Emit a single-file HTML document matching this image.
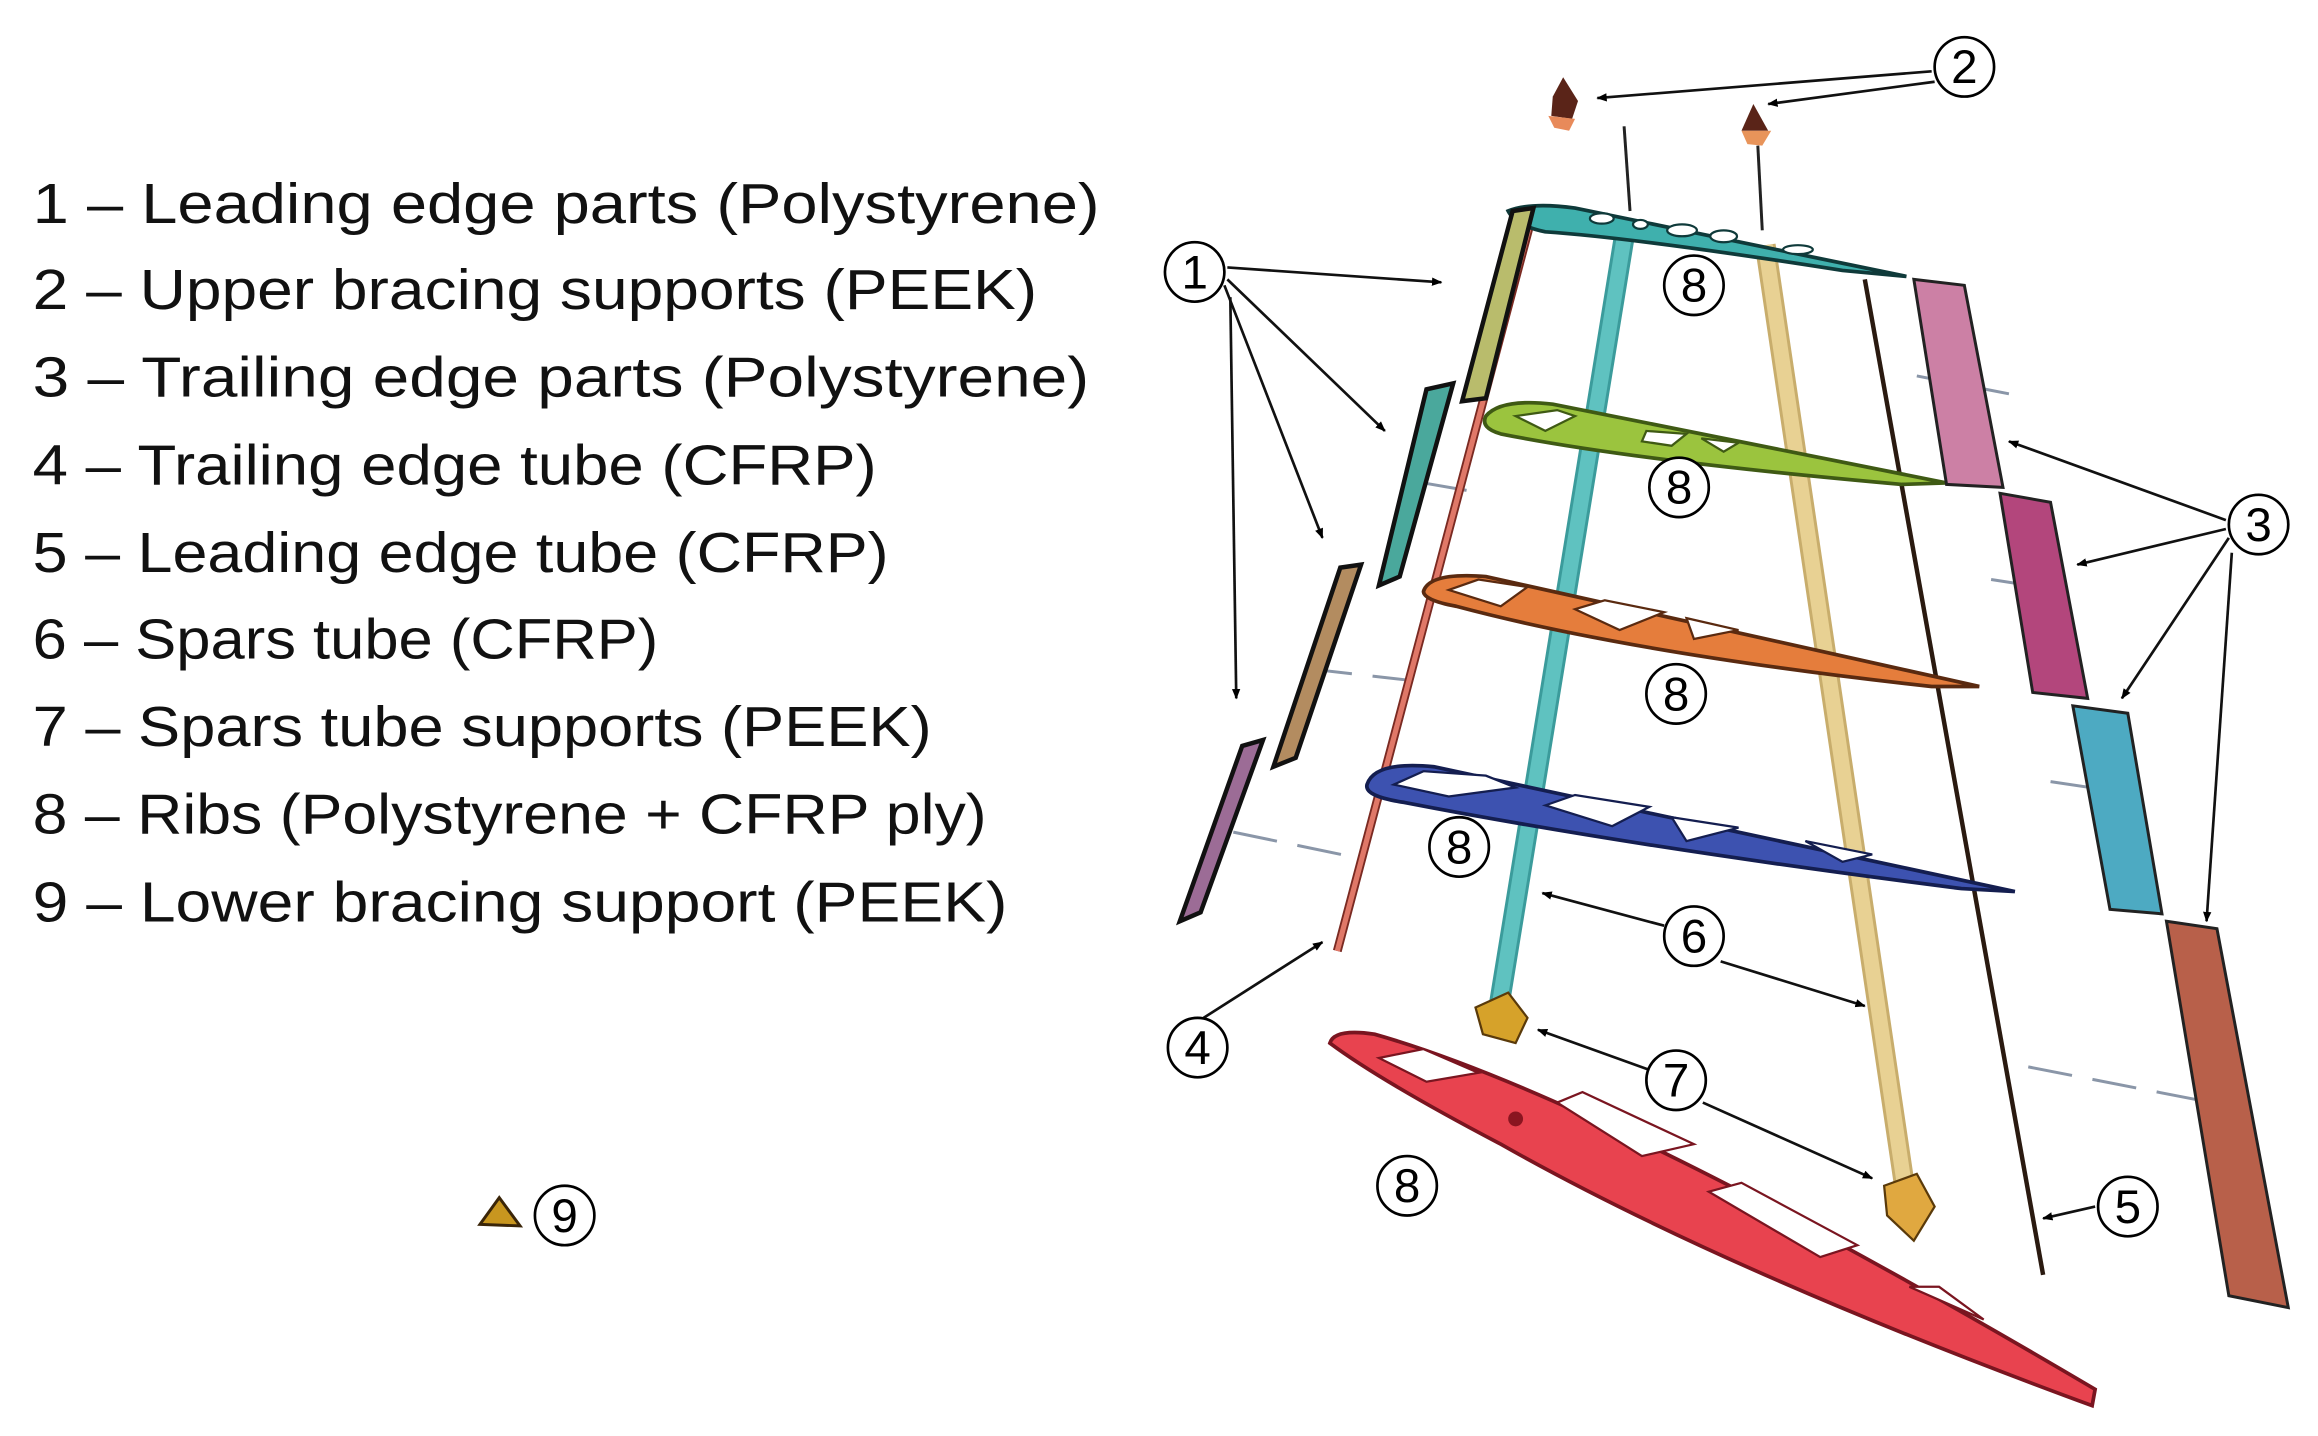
<!DOCTYPE html>
<html><head><meta charset="utf-8"><style>
html,body{margin:0;padding:0;background:#fff;}
svg{display:block;}
</style></head><body>
<svg width="2318" height="1436" viewBox="0 0 1560 966.4" xmlns="http://www.w3.org/2000/svg">
<defs>
<marker id="ah" viewBox="0 0 10 10" refX="9" refY="5" markerWidth="7" markerHeight="7" orient="auto-start-reverse" markerUnits="userSpaceOnUse"><path d="M0,1 L10,5 L0,9 z" fill="#000"/></marker>
</defs>
<rect width="1560" height="967" fill="#fff"/>
<g font-family="'Liberation Sans', sans-serif" font-size="38" fill="#111">
<text x="22" y="150" textLength="718" lengthAdjust="spacingAndGlyphs">1 – Leading edge parts (Polystyrene)</text>
<text x="22" y="208" textLength="676" lengthAdjust="spacingAndGlyphs">2 – Upper bracing supports (PEEK)</text>
<text x="22" y="267" textLength="711" lengthAdjust="spacingAndGlyphs">3 – Trailing edge parts (Polystyrene)</text>
<text x="22" y="326" textLength="568" lengthAdjust="spacingAndGlyphs">4 – Trailing edge tube (CFRP)</text>
<text x="22" y="385" textLength="576" lengthAdjust="spacingAndGlyphs">5 – Leading edge tube (CFRP)</text>
<text x="22" y="443" textLength="421" lengthAdjust="spacingAndGlyphs">6 – Spars tube (CFRP)</text>
<text x="22" y="502" textLength="605" lengthAdjust="spacingAndGlyphs">7 – Spars tube supports (PEEK)</text>
<text x="22" y="561" textLength="642" lengthAdjust="spacingAndGlyphs">8 – Ribs (Polystyrene + CFRP ply)</text>
<text x="22" y="620" textLength="656" lengthAdjust="spacingAndGlyphs">9 – Lower bracing support (PEEK)</text>
</g>
<g stroke="#8a96a8" stroke-width="2" stroke-dasharray="30,14" fill="none">
<line x1="1290" y1="253" x2="1352" y2="265"/>
<line x1="1340" y1="390" x2="1392" y2="398"/>
<line x1="1380" y1="526" x2="1440" y2="535"/>
<line x1="1365" y1="718" x2="1478" y2="740"/>
<line x1="830" y1="560" x2="912" y2="577"/>
<line x1="880" y1="450" x2="950" y2="458"/>
<line x1="958" y1="325" x2="987" y2="330"/>
</g>
<line x1="1093" y1="85" x2="1097" y2="142" stroke="#222" stroke-width="2"/>
<line x1="1183" y1="98" x2="1186" y2="155" stroke="#222" stroke-width="2"/>
<line x1="1255" y1="188" x2="1375" y2="858" stroke="#2a1a10" stroke-width="3"/>
<line x1="1032" y1="142" x2="900" y2="640" stroke="#7a2a22" stroke-width="6"/>
<line x1="1032" y1="142" x2="900" y2="640" stroke="#e07868" stroke-width="3.5"/>
<line x1="1093" y1="160" x2="1008" y2="682" stroke="#3b9b9b" stroke-width="14"/>
<line x1="1093" y1="160" x2="1008" y2="682" stroke="#5fc2c0" stroke-width="10"/>
<line x1="1188" y1="165" x2="1282" y2="800" stroke="#c8ad6c" stroke-width="14"/>
<line x1="1188" y1="165" x2="1282" y2="800" stroke="#e8d193" stroke-width="10"/>
<path d="M1015,142 Q1030,136 1060,140 L1283,186 L1240,182 Q1100,160 1040,156 Q1020,152 1015,142 z" fill="#3fb0ad" stroke="#0f3a3a" stroke-width="2.5"/>
<g fill="#fff" stroke="#0f3a3a" stroke-width="1.5"><ellipse cx="1078" cy="147" rx="8" ry="3.5"/><ellipse cx="1104" cy="151" rx="5" ry="3"/><ellipse cx="1132" cy="155" rx="10" ry="4"/><ellipse cx="1160" cy="159" rx="9" ry="4"/><ellipse cx="1210" cy="168" rx="10" ry="3"/></g>
<path d="M1000,280 Q1010,268 1045,272 L1310,325 L1280,326 Q1100,310 1010,292 Q996,288 1000,280 z" fill="#9bc43e" stroke="#3f5a14" stroke-width="2.5"/>
<g fill="#fff" stroke="#3f5a14" stroke-width="1.5"><path d="M1020,280 L1048,276 L1060,280 L1040,290 z"/><path d="M1108,290 L1135,292 L1125,300 L1105,297 z"/><path d="M1145,295 L1170,298 L1160,304 z"/></g>
<path d="M958,398 Q962,385 1000,388 L1332,462 L1300,462 Q1100,440 980,408 Q958,404 958,398 z" fill="#e57d3c" stroke="#5a2a10" stroke-width="2.5"/>
<g fill="#fff" stroke="#5a2a10" stroke-width="1.5"><path d="M975,397 L995,390 L1028,395 L1010,408 z"/><path d="M1060,410 L1080,404 L1120,412 L1090,424 z"/><path d="M1135,416 L1170,424 L1140,430 z"/></g>
<path d="M920,528 Q925,512 965,516 L1356,600 L1320,598 Q1100,570 945,540 Q918,536 920,528 z" fill="#3d52b0" stroke="#141e50" stroke-width="2.5"/>
<g fill="#fff" stroke="#141e50" stroke-width="1.5"><path d="M938,528 L958,519 L1000,522 L1020,530 L975,536 z"/><path d="M1040,542 L1060,535 L1110,543 L1085,556 z"/><path d="M1125,550 L1170,557 L1135,566 z"/><path d="M1215,566 L1260,575 L1240,580 z"/></g>
<!-- red rib -->
<path d="M895,702 Q898,692 925,696 Q1080,740 1410,935 L1408,946 Q1160,855 1010,770 Q930,728 895,702 z" fill="#e8434f" stroke="#7a1520" stroke-width="2.5"/>
<g fill="#fff" stroke="#7a1520" stroke-width="1.5"><path d="M928,712 L958,706 L995,722 L960,728 z"/><path d="M1048,742 L1065,735 L1140,770 L1105,778 z"/><path d="M1150,802 L1172,796 L1250,838 L1225,846 z"/><path d="M1285,866 L1305,866 L1335,888 z"/></g>
<circle cx="1020" cy="753" r="5" fill="#8a1520"/>
<path d="M1018,142 L1032,140 L1000,268 L984,270 z" fill="#b9bc6c" stroke="#111" stroke-width="3"/>
<path d="M960,262 L978,258 L942,388 L928,394 z" fill="#4aa89c" stroke="#111" stroke-width="3"/>
<path d="M902,382 L916,380 L872,510 L857,516 z" fill="#b38c60" stroke="#111" stroke-width="3"/>
<path d="M836,502 L850,498 L808,614 L794,620 z" fill="#9c6c96" stroke="#111" stroke-width="3"/>
<path d="M1288,188 L1322,192 L1348,328 L1310,326 z" fill="#cc80a5" stroke="#222" stroke-width="2"/>
<path d="M1346,332 L1380,338 L1405,470 L1368,466 z" fill="#b3467c" stroke="#222" stroke-width="2"/>
<path d="M1395,475 L1432,480 L1455,615 L1420,612 z" fill="#4daac2" stroke="#222" stroke-width="2"/>
<path d="M1458,620 L1492,625 L1540,880 L1500,872 z" fill="#b8604a" stroke="#222" stroke-width="2"/>
<path d="M1045,65 L1052,52 L1062,68 L1058,80 L1044,78 z" fill="#5a2418"/><path d="M1042,78 L1060,80 L1056,88 L1046,86 z" fill="#e88a5a"/>
<path d="M1172,88 L1180,70 L1190,88 z" fill="#5a2418"/><path d="M1172,88 L1192,88 L1186,98 L1176,97 z" fill="#e8945a"/>
<path d="M993,678 L1015,668 L1028,685 L1020,702 L998,696 z" fill="#d6a22a" stroke="#5a3a0a" stroke-width="1.5"/>
<path d="M1268,798 L1290,790 L1302,812 L1288,835 L1270,818 z" fill="#e0a840" stroke="#5a3a0a" stroke-width="1.5"/>
<path d="M323,824 L336,806 L350,825 z" fill="#c8961f" stroke="#3a2508" stroke-width="2"/>
<g stroke="#111" stroke-width="1.8" fill="none" marker-end="url(#ah)">
<line x1="826" y1="180" x2="970" y2="190"/>
<line x1="826" y1="188" x2="932" y2="290"/>
<line x1="824" y1="192" x2="890" y2="362"/>
<line x1="828" y1="200" x2="832" y2="470"/>
<line x1="1300" y1="48" x2="1075" y2="66"/>
<line x1="1302" y1="55" x2="1190" y2="70"/>
<line x1="1498" y1="350" x2="1352" y2="297"/>
<line x1="1498" y1="356" x2="1398" y2="380"/>
<line x1="1500" y1="362" x2="1428" y2="470"/>
<line x1="1502" y1="372" x2="1485" y2="620"/>
<line x1="810" y1="685" x2="890" y2="634"/>
<line x1="1410" y1="812" x2="1375" y2="820"/>
<line x1="1120" y1="623" x2="1038" y2="601"/>
<line x1="1158" y1="647" x2="1255" y2="677"/>
<line x1="1110" y1="720" x2="1035" y2="693"/>
<line x1="1146" y1="742" x2="1260" y2="793"/>
</g>
<g font-family="'Liberation Sans', sans-serif" font-size="32" text-anchor="middle" fill="#000">
<g fill="#fff" stroke="#000" stroke-width="1.8">
<circle cx="804" cy="183" r="20"/><circle cx="1322" cy="45" r="20"/><circle cx="1520" cy="353" r="20"/><circle cx="806" cy="705" r="20"/><circle cx="1432" cy="812" r="20"/><circle cx="1140" cy="630" r="20"/><circle cx="1128" cy="727" r="20"/><circle cx="1140" cy="192" r="20"/><circle cx="1130" cy="328" r="20"/><circle cx="1128" cy="467" r="20"/><circle cx="982" cy="570" r="20"/><circle cx="947" cy="798" r="20"/><circle cx="380" cy="818" r="20"/>
</g>
<text x="804" y="194">1</text><text x="1322" y="56">2</text><text x="1520" y="364">3</text><text x="806" y="716">4</text><text x="1432" y="823">5</text><text x="1140" y="641">6</text><text x="1128" y="738">7</text><text x="1140" y="203">8</text><text x="1130" y="339">8</text><text x="1128" y="478">8</text><text x="982" y="581">8</text><text x="947" y="809">8</text><text x="380" y="829">9</text>
</g>
</svg>
</body></html>
